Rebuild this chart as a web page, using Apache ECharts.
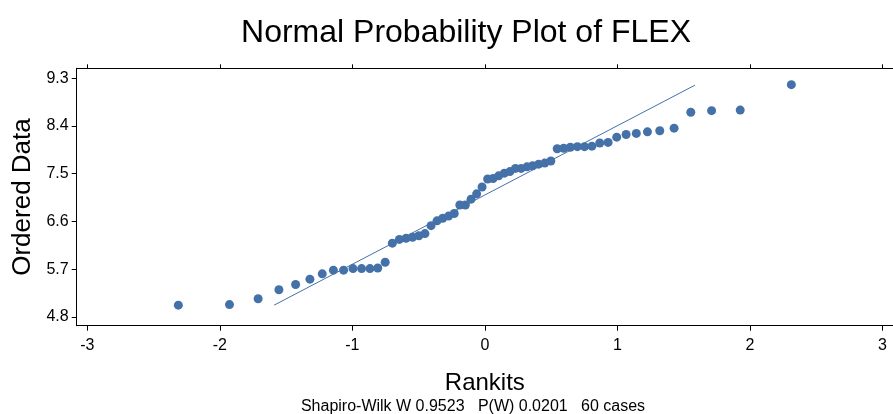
<!DOCTYPE html>
<html>
<head>
<meta charset="utf-8">
<script src="https://cdn.jsdelivr.net/npm/echarts@6/dist/echarts.min.js"></script>
<style>html,body{margin:0;padding:0;background:#fff;}#c{width:893px;height:414px;}</style>
</head>
<body>
<div id="c"></div>
<script>
// Rankits (expected normal order statistics)
const rankits = [-2.313,-1.927,-1.711,-1.554,-1.428,-1.320,-1.227,-1.143,-1.066,-0.995,
  -0.930,-0.867,-0.808,-0.752,-0.698,-0.645,-0.595,-0.546,-0.498,-0.452,
  -0.406,-0.361,-0.318,-0.274,-0.231,-0.189,-0.147,-0.104,-0.062,-0.021,
  0.021,0.062,0.104,0.147,0.189,0.231,0.274,0.318,0.361,0.406,
  0.452,0.498,0.546,0.595,0.645,0.698,0.752,0.808,0.867,0.930,
  0.995,1.066,1.143,1.227,1.320,1.428,1.554,1.711,1.927,2.313];
// Ordered FLEX values
const ordered = [5.02,5.03,5.14,5.31,5.41,5.51,5.61,5.68,5.68,5.71,
  5.71,5.71,5.72,5.83,6.19,6.26,6.28,6.30,6.33,6.37,
  6.52,6.61,6.66,6.70,6.75,6.91,6.91,7.02,7.12,7.25,
  7.40,7.41,7.46,7.51,7.54,7.60,7.60,7.63,7.65,7.68,
  7.70,7.74,7.97,7.98,8.00,8.01,8.01,8.02,8.08,8.09,
  8.19,8.24,8.26,8.29,8.31,8.36,8.66,8.69,8.70,9.18];
// Reference line end points [rankit, value]
const lineX = [-1.59, 1.585];
const lineY = [5.02, 9.17];
const xTicks = [-3,-2,-1,0,1,2,3];
const yTicks = [4.8,5.7,6.6,7.5,8.4,9.3];
const titleText = 'Normal Probability Plot of FLEX';
const xName = 'Rankits';
const yName = 'Ordered Data';
const footText = 'Shapiro-Wilk W 0.9523   P(W) 0.0201   60 cases';

const FONT = '"Liberation Sans", Arial, sans-serif';
const BLUE = '#4571a9';
const chart = echarts.init(document.getElementById('c'));
const pts = rankits.map((r, i) => [r, ordered[i]]);
const axisLineStyle = {color: '#000', width: 1};
chart.setOption({
  animation: false,
  backgroundColor: '#fff',
  grid: {left: 76.7, top: 68.3, bottom: 88.3, right: -4.2, containLabel: false},
  xAxis: [{
    type: 'value', min: -3.08, max: 3.08, position: 'bottom',
    splitLine: {show: false},
    axisLine: {show: true, onZero: false, lineStyle: axisLineStyle},
    axisTick: {show: true, length: 5, customValues: xTicks, lineStyle: axisLineStyle},
    axisLabel: {customValues: xTicks, margin: 12, color: '#000', fontSize: 16, fontFamily: FONT,
      formatter: v => String(v)},
    name: xName, nameLocation: 'middle', nameGap: 45.6,
    nameTextStyle: {color: '#000', fontSize: 24, fontFamily: FONT}
  }, {
    type: 'value', min: -3.08, max: 3.08, position: 'top',
    splitLine: {show: false},
    axisLine: {show: true, onZero: false, lineStyle: axisLineStyle},
    axisTick: {show: true, length: 4, customValues: xTicks, lineStyle: axisLineStyle},
    axisLabel: {show: false}
  }],
  yAxis: {
    type: 'value', min: 4.632, max: 9.489,
    splitLine: {show: false},
    axisLine: {show: true, onZero: false, lineStyle: axisLineStyle},
    axisTick: {show: true, length: 5, customValues: yTicks, lineStyle: axisLineStyle},
    axisLabel: {customValues: yTicks, margin: 8, color: '#000', fontSize: 16, fontFamily: FONT,
      formatter: v => v.toFixed(1)},
    name: yName, nameLocation: 'middle', nameGap: 39.4,
    nameTextStyle: {color: '#000', fontSize: 26, fontFamily: FONT}
  },
  graphic: [
    {type: 'text', x: 466, y: 33, style: {text: titleText, fill: '#000', font: '32px ' + FONT,
      align: 'center', verticalAlign: 'middle'}},
    {type: 'text', x: 473, y: 407, style: {text: footText, fill: '#000', font: '16px ' + FONT,
      align: 'center', verticalAlign: 'middle'}}
  ],
  series: [{
    type: 'line', xAxisIndex: 0,
    data: [[lineX[0], lineY[0]], [lineX[1], lineY[1]]],
    symbol: 'none', lineStyle: {color: BLUE, width: 1}, silent: true, z: 1
  }, {
    type: 'scatter', xAxisIndex: 0,
    data: pts, symbol: 'circle', symbolSize: 9,
    itemStyle: {color: BLUE, opacity: 1}, z: 2
  }]
});
</script>
</body>
</html>
